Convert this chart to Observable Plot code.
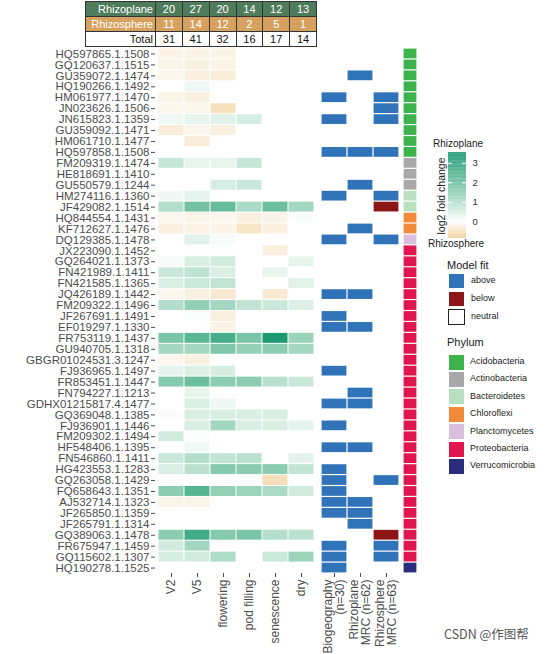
<!DOCTYPE html>
<html><head><meta charset="utf-8">
<script src="https://cdn.jsdelivr.net/npm/d3@7"></script>
<script src="https://cdn.jsdelivr.net/npm/@observablehq/plot@0.6"></script>
<style>
body{margin:0;background:#fff;font-family:"Liberation Sans",Arial,sans-serif;}
#root{position:relative;width:554px;height:654px;overflow:hidden;background:#fff;}
.tbl{display:grid;grid-template-columns:69px repeat(6,1fr);gap:1px;padding:1px;background:#333;width:230px;}
.tbl div{height:14px;line-height:14px;font-size:11px;text-align:center;}
.tbl .lab{text-align:right;padding-right:2px;}
.lg{font-size:9px;color:#1a1a1a;}
.ttl{font-size:11px;color:#1a1a1a;}
.sw{position:absolute;box-sizing:border-box;border:1px solid #fff;}
</style></head><body><div id="root"></div><script>
// ---------- data ----------
const otus = ["HQ597865.1.1508","GQ120637.1.1515","GU359072.1.1474","HQ190266.1.1492","HM061977.1.1470","JN023626.1.1506","JN615823.1.1359","GU359092.1.1471","HM061710.1.1477","HQ597858.1.1508",
"FM209319.1.1474","HE818691.1.1410","GU550579.1.1244","HM274116.1.1360","JF429082.1.1514","HQ844554.1.1431","KF712627.1.1476","DQ129385.1.1478","JX223090.1.1452","GQ264021.1.1373",
"FN421989.1.1411","FN421585.1.1365","JQ426189.1.1442","FM209322.1.1496","JF267691.1.1491","EF019297.1.1330","FR753119.1.1437","GU940705.1.1318","GBGR01024531.3.1247","FJ936965.1.1497",
"FR853451.1.1447","FN794227.1.1213","GDHX01215817.4.1477","GQ369048.1.1385","FJ936901.1.1446","FM209302.1.1494","HF548406.1.1395","FN546860.1.1411","HG423553.1.1283","GQ263058.1.1429",
"FQ658643.1.1351","AJ532714.1.1323","JF265850.1.1359","JF265791.1.1314","GQ389063.1.1478","FR675947.1.1459","GQ115602.1.1307","HQ190278.1.1525"];

const stages = ["V2","V5","flowering","pod filling","senescence","dry"];

// log2 fold change (rhizoplane vs rhizosphere), null = not shown
const lfcV2 = [-0.2,-0.2,-0.15,null,-0.2,-0.15,0.2,-0.3,null,null, 0.75,null,null,0.2,1.0,-0.15,-0.25,null,null,0.1, 0.7,0.5,-0.15,1.0,null,null,1.8,1.2,-0.15,0.35, 1.6,null,null,0.05,null,0.6,null,0.7,0.5,null, 1.5,-0.2,null,null,1.5,0.6,0.55,null];
const lfcV5 = [-0.2,-0.25,-0.25,0.2,-0.25,-0.15,0.3,-0.15,-0.3,null, 0.3,null,null,0.35,1.9,-0.2,-0.2,0.4,0.03,0.5, 0.85,0.7,-0.25,1.4,0.05,null,2.3,1.2,-0.25,0.45, 2.0,0.3,0.5,0.5,0.5,0.05,0.2,1.0,0.9,null, 2.4,-0.2,null,null,2.7,1.2,0.6,null];
const lfcFlowering = [-0.2,-0.2,-0.3,null,null,-0.5,0.4,-0.25,null,null, 0.3,null,0.55,null,2.1,-0.15,-0.2,0.1,0.03,0.6, 0.5,0.8,-0.35,1.2,-0.25,-0.2,2.6,1.7,null,0.55, 1.5,null,0.2,0.5,1.2,null,null,0.8,1.6,null, 1.4,null,null,null,1.6,null,1.05,null];
const lfcPodFilling = [null,null,null,null,null,null,0.55,null,null,null, 0.75,null,0.7,null,1.1,-0.25,-0.45,null,null,null, null,null,null,0.8,null,null,1.8,1.4,null,null, 1.5,null,null,0.5,0.5,null,null,0.9,1.5,null, 1.3,null,null,null,1.8,null,null,null];
const lfcSenescence = [null,null,null,null,null,null,null,null,null,null, null,null,null,null,2.0,-0.2,-0.25,null,-0.25,null, 0.3,null,-0.35,0.7,null,null,3.3,1.5,null,null, 0.9,null,null,0.5,0.5,null,null,null,1.5,-0.55, 1.1,null,null,null,1.0,null,0.7,null];
const lfcDry = [null,null,null,null,null,null,null,null,null,null, null,null,null,null,1.2,0.05,null,null,null,0.3, null,0.4,null,0.45,null,null,1.3,1.2,null,null, 0.7,null,null,null,0.35,null,null,0.35,0.8,null, 0.6,null,null,null,0.9,null,1.3,null];

// header table
const rhizoplaneCounts = [20,27,20,14,12,13];
const rhizosphereCounts = [11,14,12,2,5,1];
const totalCounts = [31,41,32,16,17,14];

// model fit ("a" = above, "b" = below, "" = neutral)
const fitColumns = ["Biogeography\n(n=30)","Rhizoplane\nMRC (n=62)","Rhizosphere\nMRC (n=63)"];
const fitBiogeography = ["","","","","a","","a","","","a", "","","","a","","","","a","","", "","","a","","a","a","","","","a", "","","a","","a","","a","","a","a", "a","a","a","","","a","a","a"];
const fitRhizoplane  = ["","","a","","","","","","","a", "","","a","","","","a","","","", "","","a","","","a","","","","", "","a","a","","","","a","","","", "","a","a","a","","","",""];
const fitRhizosphere = ["","","","","a","a","a","","","a", "","","","a","b","","","a","","", "","","","","","","","","","", "","","","","","","","","","a", "","","","","b","a","a",""];
const fitLevels = ["above","below","neutral"];
const fitColors = ["#3173b8","#8c1515","#ffffff"];

// phylum
const phyla = ["Acidobacteria","Actinobacteria","Bacteroidetes","Chloroflexi","Planctomycetes","Proteobacteria","Verrucomicrobia"];
const phylumColors = ["#3cb44b","#a8a8a8","#b8e0c0","#f28a3c","#d9bfdd","#e0174f","#2b2d7c"];
const phylumOfOtu = [0,0,0,0,0,0,0,0,0,0, 1,1,1,2,2,3,3,4,5,5, 5,5,5,5,5,5,5,5,5,5, 5,5,5,5,5,5,5,5,5,5, 5,5,5,5,5,5,5,6].map(i => phyla[i]);

const colorbarTicks = [0,1,2,3];
const lfcDomain = [-0.85, 0, 1.5, 3.55];
const lfcRange = ["#efcd92", "#ffffff", "#8ccdb1", "#0f936a"];

// ---------- build ----------
const root = document.getElementById("root");
const font = "'Liberation Sans', Arial, sans-serif";
const lfcColor = d3.scaleLinear().domain(lfcDomain).range(lfcRange);
const lfcMin = lfcDomain[0], lfcMax = lfcDomain[lfcDomain.length - 1];

function place(el, left, top) { el.style.position = "absolute"; el.style.left = left + "px"; el.style.top = top + "px"; root.appendChild(el); return el; }

// header table
const tbl = document.createElement("div");
tbl.className = "tbl";
const rowsSpec = [["Rhizoplane", rhizoplaneCounts, "#4f7d5c", "#fff"], ["Rhizosphere", rhizosphereCounts, "#d6a15e", "#fff"], ["Total", totalCounts, "#fff", "#111"]];
for (const [name, vals, bg, fg] of rowsSpec) {
  const l = document.createElement("div"); l.className = "lab"; l.textContent = name; l.style.background = bg; l.style.color = fg; tbl.appendChild(l);
  for (const v of vals) { const c = document.createElement("div"); c.textContent = v; c.style.background = bg; c.style.color = fg; tbl.appendChild(c); }
}
place(tbl, 85, 1);

const common = {height: 614, marginTop: 8, marginBottom: 81,
  style: {fontFamily: font, background: "transparent", overflow: "visible", color: "#4d4d4d"}};

// heatmap
const lfcSeries = [lfcV2, lfcV5, lfcFlowering, lfcPodFilling, lfcSenescence, lfcDry];
const heatData = [];
lfcSeries.forEach((vals, j) => vals.forEach((v, i) => { if (v !== null) heatData.push({otu: otus[i], stage: stages[j], value: v}); }));

const heat = Plot.plot({...common, width: 317, marginLeft: 155, marginRight: 1,
  x: {domain: stages, padding: 0, label: null},
  y: {domain: otus, padding: 0, label: null},
  color: {type: "identity"},
  marks: [
    Plot.cell(heatData, {x: "stage", y: "otu", fill: d => lfcColor(d.value), inset: 0.5}),
    Plot.axisY({tickSize: 4, tickPadding: 2, fontSize: 11.5, label: null}),
    Plot.axisX({anchor: "bottom", tickRotate: -90, tickSize: 4, tickPadding: 2, fontSize: 12, label: null})
  ]});
place(heat, 0, 40);

// model fit
const fitCode = {a: "above", b: "below"};
const fitData = [];
[fitBiogeography, fitRhizoplane, fitRhizosphere].forEach((arr, j) => arr.forEach((c, i) => { if (c) fitData.push({otu: otus[i], model: fitColumns[j], fit: fitCode[c]}); }));
const fit = Plot.plot({...common, width: 80, marginLeft: 1, marginRight: 1,
  x: {domain: fitColumns, padding: 0, label: null},
  y: {domain: otus, padding: 0, axis: null},
  color: {domain: fitLevels, range: fitColors},
  marks: [
    Plot.cell(fitData, {x: "model", y: "otu", fill: "fit", inset: 0.6}),
    Plot.axisX({anchor: "bottom", tickRotate: -90, tickSize: 4, tickPadding: 2, fontSize: 12, label: null})
  ]});
place(fit, 320, 40);

// phylum strip
const phyData = otus.map((o, i) => ({otu: o, phylum: phylumOfOtu[i]}));
const phy = Plot.plot({...common, width: 18, marginLeft: 2, marginRight: 2,
  x: {axis: null},
  y: {domain: otus, padding: 0, axis: null},
  color: {domain: phyla, range: phylumColors},
  marks: [Plot.cell(phyData, {y: "otu", fill: "phylum", inset: 0.6})]});
place(phy, 401, 40);

// ---------- legends ----------
function text(str, left, top, cls, extra) { const d = document.createElement("div"); d.className = cls; d.textContent = str; d.style.whiteSpace = "nowrap"; if (extra) Object.assign(d.style, extra); return place(d, left, top); }

text("Rhizoplane", 433, 138, "lg", {fontSize: "10px"});
const steps = d3.range(lfcMin, lfcMax, 0.04).map(v => ({lo: v, hi: Math.min(v + 0.045, lfcMax), c: lfcColor(v + 0.02)}));
const bar = Plot.plot({width: 60, height: 90, marginTop: 2, marginBottom: 2, marginLeft: 18, marginRight: 24,
  style: {fontFamily: font, background: "transparent", overflow: "visible", color: "#333"},
  y: {domain: [lfcMin, lfcMax], axis: null},
  color: {type: "identity"},
  marks: [
    Plot.rect(steps, {y1: "lo", y2: "hi", fill: "c"}),
    Plot.tickY(colorbarTicks, {y: d => d, stroke: "white", insetRight: 14}),
    Plot.tickY(colorbarTicks, {y: d => d, stroke: "white", insetLeft: 14}),
    Plot.axisY(colorbarTicks, {anchor: "right", tickSize: 0, tickPadding: 6, fontSize: 9.5, label: null})
  ]});
place(bar, 430, 150);
text("log2 fold change", 441, 196, "lg", {fontSize: "10.5px", transform: "translate(-50%,-50%) rotate(-90deg)"});
text("Rhizosphere", 428, 238, "lg", {fontSize: "10px"});

text("Model fit", 447, 259, "ttl");
fitLevels.forEach((lv, i) => {
  const s = document.createElement("div"); s.className = "sw";
  s.style.width = "17px"; s.style.height = "16px"; s.style.background = fitColors[i];
  if (lv === "neutral") s.style.border = "1px solid #222";
  place(s, 448, 273 + i * 18.2);
  text(lv, 471, 275 + i * 18.2, "lg");
});

text("Phylum", 447, 336, "ttl");
phyla.forEach((p, i) => {
  const s = document.createElement("div"); s.className = "sw";
  s.style.width = "17px"; s.style.height = "17px"; s.style.background = phylumColors[i];
  place(s, 447.5, 353.5 + i * 17.4);
  text(p, 470, 356 + i * 17.4, "lg");
});

text("CSDN @作图帮", 444, 624, "lg", {fontSize: "12.5px", color: "#555", fontFamily: "'Noto Sans CJK SC','Liberation Sans',sans-serif"});
</script></body></html>
